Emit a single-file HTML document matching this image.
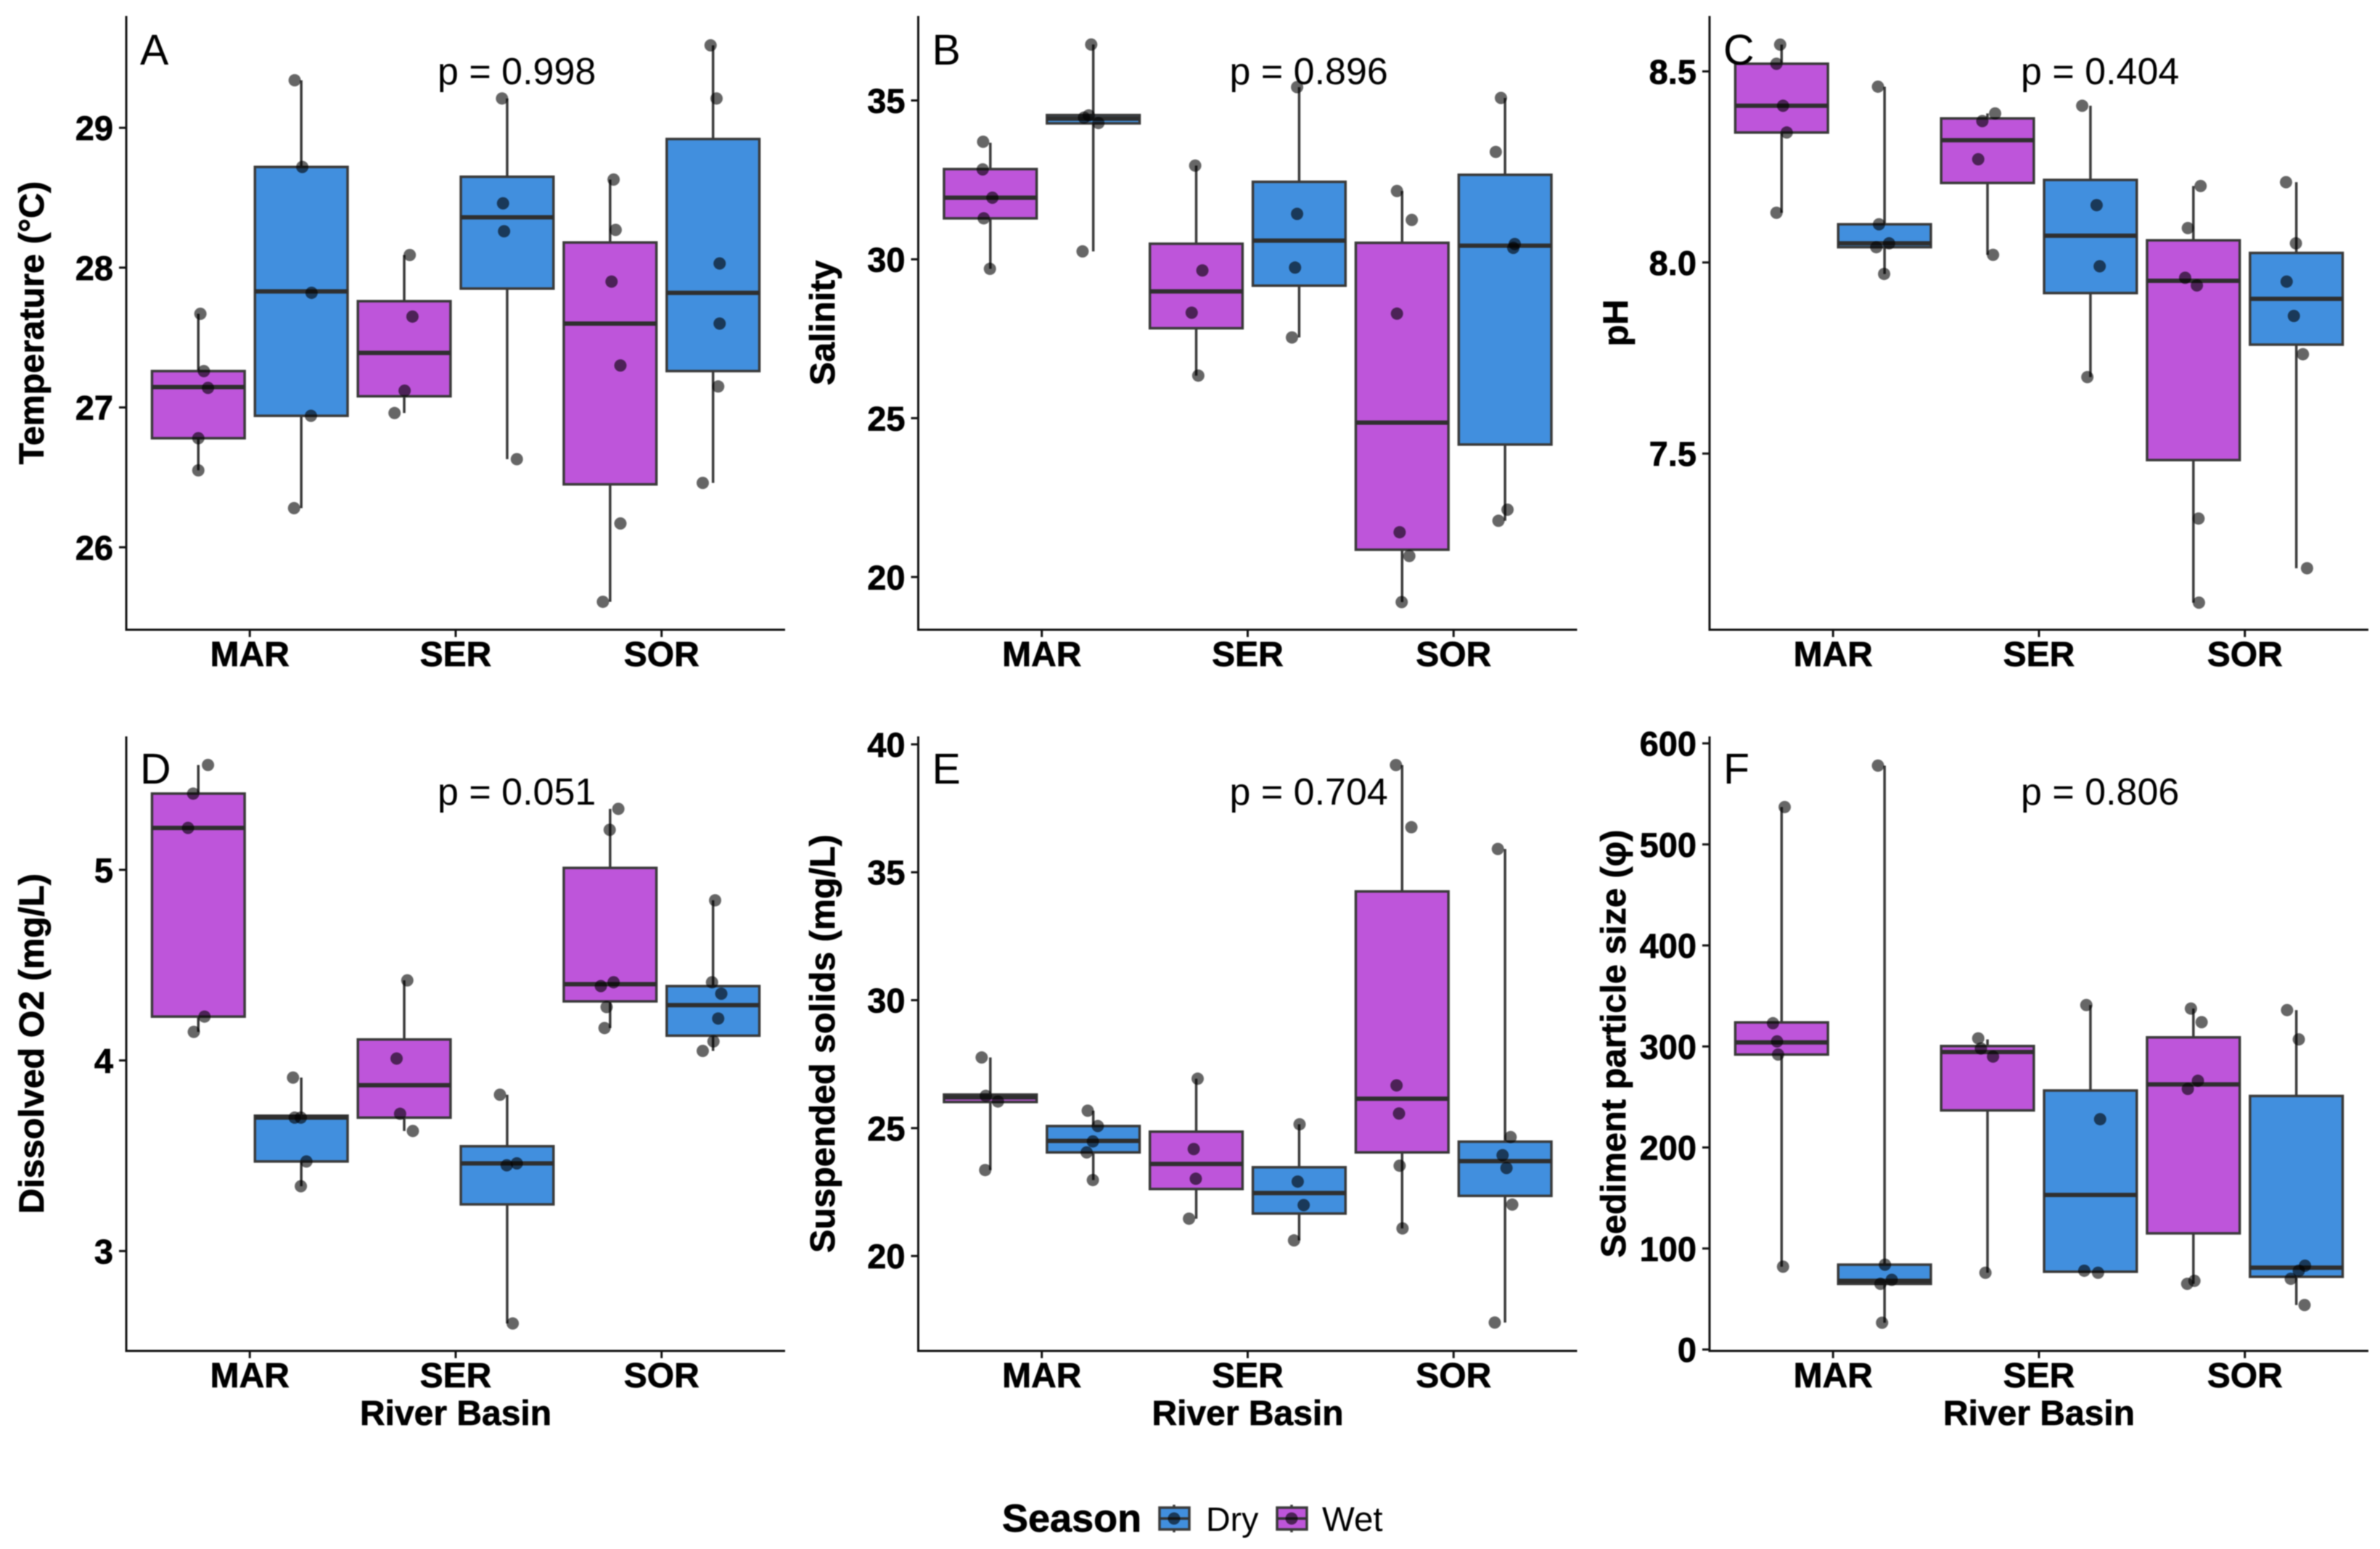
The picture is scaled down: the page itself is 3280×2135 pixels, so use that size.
<!DOCTYPE html>
<html lang="en">
<head>
<meta charset="utf-8">
<title>Water quality by river basin and season</title>
<style>
html,body{margin:0;padding:0;background:#fff;}
body{width:3280px;height:2135px;overflow:hidden;}
svg{display:block;filter:blur(0.8px);}
text{font-family:"Liberation Sans",Arial,sans-serif;fill:#000;}
.bold{font-weight:bold;stroke:#000;stroke-width:0.7px;}
</style>
</head>
<body>
<svg id="figure" xmlns="http://www.w3.org/2000/svg" width="3280" height="2135" viewBox="0 0 3280 2135">
  <g id="panels"></g>
  <g id="legend">
    <text class="bold" x="1381" y="2111" font-size="54">Season</text>
    <g>
      <line x1="1618" x2="1618" y1="2074" y2="2112" stroke="#3a3a3a" stroke-width="3.5"/>
      <rect x="1598" y="2078" width="41" height="30" fill="#418FDE" stroke="#3a3a3a" stroke-width="3.5"/>
      <line x1="1598" x2="1639" y1="2093" y2="2093" stroke="#333" stroke-width="3.5"/>
      <circle cx="1618" cy="2093" r="8.5" fill="#000" fill-opacity="0.6"/>
      <text x="1662" y="2110" font-size="46.5">Dry</text>
    </g>
    <g>
      <line x1="1780" x2="1780" y1="2074" y2="2112" stroke="#3a3a3a" stroke-width="3.5"/>
      <rect x="1760" y="2078" width="41" height="30" fill="#BE55DA" stroke="#3a3a3a" stroke-width="3.5"/>
      <line x1="1760" x2="1801" y1="2093" y2="2093" stroke="#333" stroke-width="3.5"/>
      <circle cx="1780" cy="2093" r="8.5" fill="#000" fill-opacity="0.6"/>
      <text x="1822" y="2110" font-size="47.5">Wet</text>
    </g>
  </g>
</svg>
<script>
/* Shared categories. Groups run MAR-Wet, MAR-Dry, SER-Wet, SER-Dry, SOR-Wet, SOR-Dry. */
const categories = ['MAR', 'SER', 'SOR'];
const seasons = ['Wet', 'Dry'];

/* A: Temperature */
const tempTicks = ['26', '27', '28', '29'];
const tempQ1 = [26.78, 26.94, 27.08, 27.85, 26.45, 27.26];
const tempMedian = [27.146, 27.83, 27.39, 28.36, 27.60, 27.82];
const tempQ3 = [27.26, 28.72, 27.76, 28.65, 28.18, 28.92];
const tempLow = [26.55, 26.28, 26.96, 26.63, 25.61, 26.46];
const tempHigh = [27.67, 29.34, 28.09, 29.21, 28.63, 29.59];
const tempPoints = [
  [27.67, 27.26, 27.14, 26.78, 26.55],
  [29.34, 28.72, 27.82, 26.94, 26.28],
  [28.09, 27.65, 27.12, 26.96],
  [29.21, 28.46, 28.26, 26.63],
  [28.63, 28.27, 27.90, 27.30, 26.17, 25.61],
  [29.59, 29.21, 28.03, 27.60, 27.15, 26.46]
];
const tempJitter = [
  [.01, .027, .047, 0, 0],
  [-.032, .005, .05, .047, -.035],
  [.027, .04, .002, -.047],
  [-.025, -.02, -.015, .047],
  [.017, .027, .007, .05, .05, -.035],
  [-.012, .017, .032, .032, .025, -.05]
];

/* B: Salinity */
const salTicks = ['20', '25', '30', '35'];
const salQ1 = [31.29, 34.28, 27.83, 29.17, 20.86, 24.17];
const salMedian = [31.94, 34.43, 28.99, 30.59, 24.86, 30.43];
const salQ3 = [32.84, 34.54, 30.49, 32.44, 30.52, 32.66];
const salLow = [29.70, 30.25, 26.34, 27.54, 19.21, 21.77];
const salHigh = [33.67, 36.76, 32.95, 35.42, 32.15, 35.08];
const salPoints = [
  [33.70, 32.83, 31.94, 31.29, 29.70],
  [36.76, 34.53, 34.46, 34.29, 30.25],
  [32.95, 29.65, 28.32, 26.34],
  [35.42, 31.43, 29.74, 27.54],
  [32.15, 31.24, 28.29, 21.41, 20.66, 19.21],
  [35.08, 33.38, 30.48, 30.36, 22.12, 21.77]
];
const salJitter = [
  [-.035, -.037, .01, -.032, -.002],
  [-.01, -.022, -.045, .025, -.052],
  [-.005, .03, -.022, .01],
  [-.01, -.01, -.02, -.035],
  [-.025, .047, -.025, -.012, .035, -.002],
  [-.02, -.045, .047, .04, .012, -.032]
];

/* C: pH */
const phTicks = ['7.5', '8.0', '8.5'];
const phQ1 = [8.34, 8.04, 8.208, 7.92, 7.483, 7.785];
const phMedian = [8.41, 8.05, 8.32, 8.07, 7.952, 7.905];
const phQ3 = [8.52, 8.10, 8.377, 8.216, 8.058, 8.025];
const phLow = [8.13, 7.97, 8.02, 7.70, 7.11, 7.20];
const phHigh = [8.57, 8.46, 8.39, 8.41, 8.20, 8.21];
const phPoints = [
  [8.57, 8.52, 8.41, 8.34, 8.13],
  [8.46, 8.10, 8.05, 8.04, 7.97],
  [8.39, 8.37, 8.27, 8.02],
  [8.41, 8.15, 7.99, 7.70],
  [8.20, 8.09, 7.96, 7.94, 7.33, 7.11],
  [8.21, 8.05, 7.95, 7.86, 7.76, 7.20]
];
const phJitter = [
  [-.007, -.025, .007, .025, -.025],
  [-.032, -.027, .022, -.04, -.002],
  [.037, -.025, -.045, .027],
  [-.04, .03, .045, -.015],
  [.035, -.027, -.04, .017, .025, .027],
  [-.05, -.002, -.047, -.012, .032, .052]
];

/* D: Dissolved O2 */
const oxyTicks = ['3', '4', '5'];
const oxyQ1 = [4.23, 3.47, 3.70, 3.245, 4.31, 4.13];
const oxyMedian = [5.22, 3.70, 3.87, 3.46, 4.40, 4.29];
const oxyQ3 = [5.40, 3.71, 4.11, 3.55, 5.01, 4.39];
const oxyLow = [4.15, 3.34, 3.63, 2.62, 4.17, 4.05];
const oxyHigh = [5.55, 3.91, 4.42, 3.82, 5.32, 4.84];
const oxyPoints = [
  [5.55, 5.40, 5.22, 4.23, 4.15],
  [3.91, 3.70, 3.70, 3.47, 3.34],
  [4.42, 4.01, 3.72, 3.63],
  [3.82, 3.46, 3.45, 2.62],
  [5.32, 5.21, 4.41, 4.39, 4.28, 4.17],
  [4.84, 4.41, 4.35, 4.22, 4.10, 4.05]
];
const oxyJitter = [
  [.047, -.025, -.05, .03, -.022],
  [-.04, -.032, -.002, .025, -.002],
  [.015, -.037, -.02, .042],
  [-.035, .047, -.002, .027],
  [.04, -.002, .017, -.045, -.017, -.027],
  [.01, -.005, .04, .025, .002, -.05]
];

/* E: Suspended solids */
const solidsTicks = ['20', '25', '30', '35', '40'];
const solidsQ1 = [26.02, 24.05, 22.62, 21.66, 24.05, 22.35];
const solidsMedian = [26.2, 24.50, 23.60, 22.46, 26.15, 23.71];
const solidsQ3 = [26.31, 25.08, 24.86, 23.47, 34.25, 24.47];
const solidsLow = [23.36, 22.97, 21.46, 20.61, 21.08, 17.40];
const solidsHigh = [27.76, 25.68, 26.93, 25.15, 39.19, 35.91];
const solidsPoints = [
  [27.76, 26.26, 26.04, 23.36],
  [25.68, 25.08, 24.48, 24.05, 22.97],
  [26.93, 24.18, 23.02, 21.46],
  [25.15, 22.91, 21.99, 20.61],
  [39.19, 36.76, 26.67, 25.57, 23.53, 21.08],
  [35.91, 24.65, 23.94, 23.44, 22.01, 17.40]
];
const solidsJitter = [
  [-.042, -.022, .037, -.025],
  [-.027, .022, -.002, -.032, -.002],
  [.007, -.012, -.002, -.035],
  [.002, -.007, .022, -.025],
  [-.03, .045, -.027, -.015, -.012, .002],
  [-.035, .027, -.012, .007, .035, -.05]
];

/* F: Sediment particle size */
const sedTicks = ['0', '100', '200', '300', '400', '500', '600'];
const sedQ1 = [292, 65, 236.7, 77, 115, 72];
const sedMedian = [304, 68, 294.5, 153, 262.4, 81];
const sedQ3 = [323.8, 84, 300.4, 256.4, 309, 251];
const sedLow = [82, 26.5, 76, 76, 65, 44];
const sedHigh = [537, 578, 307, 341, 337.5, 336];
const sedPoints = [
  [537, 323, 305, 292, 82],
  [578, 84, 69, 65, 26.5],
  [308, 298, 290, 76],
  [341, 228, 78, 76],
  [337.5, 324, 266, 258, 68, 65],
  [336, 307, 83, 78, 70, 44]
];
const sedJitter = [
  [.015, -.042, -.022, -.017, .007],
  [-.032, .002, .035, -.02, -.012],
  [-.045, -.032, .027, -.01],
  [-.02, .047, -.03, .037],
  [-.012, .04, .022, -.027, .005, -.03],
  [-.045, .012, .042, .012, -.027, .04]
];

const SVGNS = 'http://www.w3.org/2000/svg';
const SEASON_FILL = { Wet: '#BE55DA', Dry: '#418FDE' };

function makeEl(parent, tag, attrs) {
  const el = document.createElementNS(SVGNS, tag);
  for (const key in attrs) el.setAttribute(key, attrs[key]);
  parent.appendChild(el);
  return el;
}

function drawPanel(cfg) {
  const root = document.getElementById('panels');
  const panel = makeEl(root, 'g', {});
  
  

  const right = cfg.left + 908;
  const xScale = function (pos) { return cfg.left + (pos + 0.6) * 908 / 3.2; };
  const yScale = function (v) { return cfg.bottom - (v - cfg.yMin) * (cfg.bottom - cfg.top) / (cfg.yMax - cfg.yMin); };
  const boxHalf = 0.225;

  /* boxes */
  cfg.median.forEach(function (med, i) {
    const cat = Math.floor(i / 2);
    const season = seasons[i % 2];
    const centre = cat + (i % 2 === 0 ? -0.25 : 0.25);
    const cx = xScale(centre);
    const group = makeEl(panel, 'g', {});
    const label = cfg.id + '-' + categories[cat].toLowerCase() + '-' + season.toLowerCase();
    
    

    const whisker = makeEl(group, 'line', {
      x1: cx, x2: cx, y1: yScale(cfg.high[i]), y2: yScale(cfg.low[i]),
      stroke: '#3a3a3a', 'stroke-width': 3.5
    });
    
    

    const box = makeEl(group, 'rect', {
      x: xScale(centre - boxHalf), width: xScale(centre + boxHalf) - xScale(centre - boxHalf),
      y: yScale(cfg.q3[i]), height: yScale(cfg.q1[i]) - yScale(cfg.q3[i]),
      fill: SEASON_FILL[season], stroke: '#3a3a3a', 'stroke-width': 3.5
    });
    
    

    const medianLine = makeEl(group, 'line', {
      x1: xScale(centre - boxHalf), x2: xScale(centre + boxHalf), y1: yScale(med), y2: yScale(med),
      stroke: '#2f2f2f', 'stroke-width': 6
    });
    
    

    cfg.points[i].forEach(function (v, j) {
      const dot = makeEl(group, 'circle', {
        cx: xScale(centre + cfg.jitter[i][j]), cy: yScale(v), r: 8.5,
        fill: '#000', 'fill-opacity': 0.6
      });
      
      
    });
  });

  /* axes */
  const yAxis = makeEl(panel, 'line', { x1: cfg.left, x2: cfg.left, y1: cfg.top, y2: cfg.bottom + 1.5, stroke: '#111', 'stroke-width': 3 });
  
  
  const xAxis = makeEl(panel, 'line', { x1: cfg.left, x2: right, y1: cfg.bottom, y2: cfg.bottom, stroke: '#111', 'stroke-width': 3 });
  
  

  cfg.ticks.forEach(function (label) {
    const y = yScale(parseFloat(label));
    const mark = makeEl(panel, 'line', { x1: cfg.left - 10, x2: cfg.left, y1: y, y2: y, stroke: '#111', 'stroke-width': 3 });
    
    
    const t = makeEl(panel, 'text', { x: cfg.left - 18, y: y + 17, 'text-anchor': 'end', 'font-size': 47, class: 'bold' });
    t.textContent = label;
    
    
  });

  categories.forEach(function (label, i) {
    const x = xScale(i);
    const mark = makeEl(panel, 'line', { x1: x, x2: x, y1: cfg.bottom, y2: cfg.bottom + 10, stroke: '#111', 'stroke-width': 3 });
    
    
    const t = makeEl(panel, 'text', { x: x, y: cfg.bottom + 50, 'text-anchor': 'middle', 'font-size': 48, class: 'bold' });
    t.textContent = label;
    
    
  });

  /* labels */
  const yTitle = makeEl(panel, 'text', {
    transform: 'translate(' + cfg.titleX + ',' + ((cfg.top + cfg.bottom) / 2) + ') rotate(-90)',
    'text-anchor': 'middle', 'font-size': 48.5, class: 'bold'
  });
  yTitle.textContent = cfg.title;
  
  

  if (cfg.xTitle) {
    const xTitle = makeEl(panel, 'text', { x: xScale(1), y: cfg.bottom + 102, 'text-anchor': 'middle', 'font-size': 48, class: 'bold' });
    xTitle.textContent = 'River Basin';
    
    
  }

  const letter = makeEl(panel, 'text', { x: cfg.left + 19, y: cfg.top + (cfg.bottom > 1000 ? 65 : 67), 'font-size': 59 });
  letter.textContent = cfg.letter;
  
  

  const pValue = makeEl(panel, 'text', { x: cfg.left + 429, y: cfg.top + 94, 'font-size': 52 });
  pValue.textContent = cfg.p;
  
  
}

drawPanel({ id: 'temperature', letter: 'A', p: 'p = 0.998', title: 'Temperature (°C)', titleX: 60, left: 174, top: 22, bottom: 868, yMin: 25.41, yMax: 29.80,
  ticks: tempTicks, q1: tempQ1, median: tempMedian, q3: tempQ3, low: tempLow, high: tempHigh, points: tempPoints, jitter: tempJitter });
drawPanel({ id: 'salinity', letter: 'B', p: 'p = 0.896', title: 'Salinity', titleX: 1150, left: 1265.5, top: 22, bottom: 868, yMin: 18.34, yMax: 37.66,
  ticks: salTicks, q1: salQ1, median: salMedian, q3: salQ3, low: salLow, high: salHigh, points: salPoints, jitter: salJitter });
drawPanel({ id: 'ph', letter: 'C', p: 'p = 0.404', title: 'pH', titleX: 2243, left: 2356, top: 22, bottom: 868, yMin: 7.039, yMax: 8.645,
  ticks: phTicks, q1: phQ1, median: phMedian, q3: phQ3, low: phLow, high: phHigh, points: phPoints, jitter: phJitter });
drawPanel({ id: 'dissolved-oxygen', letter: 'D', p: 'p = 0.051', title: 'Dissolved O2 (mg/L)', titleX: 60, left: 174, top: 1015, bottom: 1862, yMin: 2.476, yMax: 5.70, xTitle: true,
  ticks: oxyTicks, q1: oxyQ1, median: oxyMedian, q3: oxyQ3, low: oxyLow, high: oxyHigh, points: oxyPoints, jitter: oxyJitter });
drawPanel({ id: 'suspended-solids', letter: 'E', p: 'p = 0.704', title: 'Suspended solids (mg/L)', titleX: 1150, left: 1265.5, top: 1015, bottom: 1862, yMin: 16.29, yMax: 40.31, xTitle: true,
  ticks: solidsTicks, q1: solidsQ1, median: solidsMedian, q3: solidsQ3, low: solidsLow, high: solidsHigh, points: solidsPoints, jitter: solidsJitter });
drawPanel({ id: 'sediment-size', letter: 'F', p: 'p = 0.806', title: 'Sediment particle size (φ)', titleX: 2240, left: 2356, top: 1015, bottom: 1862, yMin: -1.4, yMax: 606.9, xTitle: true,
  ticks: sedTicks, q1: sedQ1, median: sedMedian, q3: sedQ3, low: sedLow, high: sedHigh, points: sedPoints, jitter: sedJitter });
</script>
</body>
</html>
